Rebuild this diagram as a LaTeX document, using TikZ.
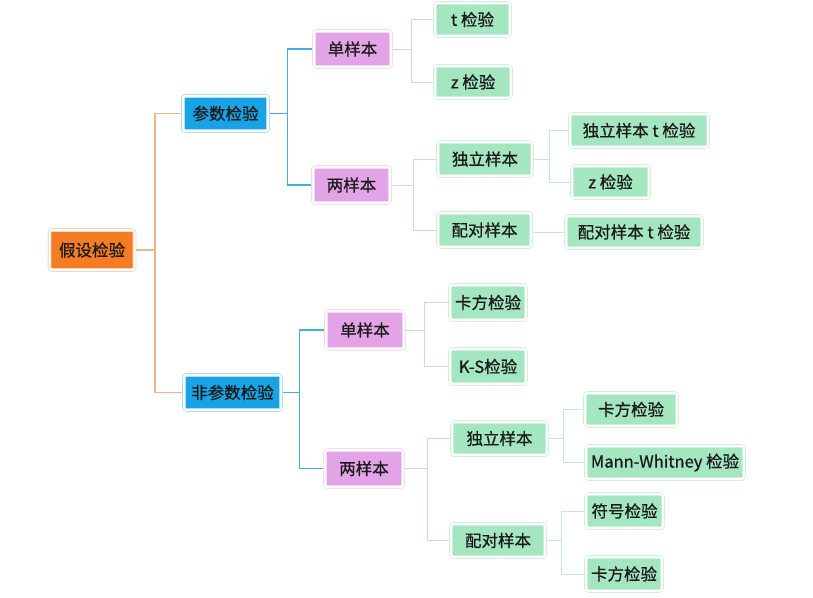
\documentclass[tikz,border=0pt]{standalone}
\usepackage{fontspec}
\setmainfont[FakeBold=0.7]{Noto Sans CJK SC}
\definecolor{rootfill}{HTML}{F57C22}
\definecolor{rootedge}{HTML}{F3D2BE}
\definecolor{rootlink}{HTML}{F0B48A}
\definecolor{parfill}{HTML}{17A3E5}
\definecolor{paredge}{HTML}{A9DAF0}
\definecolor{parlink}{HTML}{3DB2D6}
\definecolor{smpfill}{HTML}{E3A4E7}
\definecolor{smpedge}{HTML}{F2D6F2}
\definecolor{smplink}{HTML}{E7CAE7}
\definecolor{tstfill}{HTML}{A4E6BF}
\definecolor{tstedge}{HTML}{CDEED9}
\definecolor{tstlink}{HTML}{C6E8D2}
\definecolor{labeltext}{HTML}{1A1A1A}
\usetikzlibrary{backgrounds}

\begin{document}
\begin{tikzpicture}[
  x=1pt,
  y=-1pt,
  line join=round,
  box/.style={rectangle,rounded corners=2.5pt,line width=0.8pt,double=white,
    double distance=2pt,inner sep=0pt,font=\fontsize{16.5}{18}\selectfont,
    text=labeltext},
  rootbox/.style={box,draw=rootedge,fill=rootfill},
  parbox/.style={box,draw=paredge,fill=parfill},
  smpbox/.style={box,draw=smpedge,fill=smpfill},
  tstbox/.style={box,draw=tstedge,fill=tstfill},
  rootline/.style={draw=rootlink,line width=1.2pt},
  parline/.style={draw=parlink,line width=1.2pt},
  smpline/.style={draw=smplink,line width=1pt},
  tstline/.style={draw=tstlink,line width=1pt}
]
  \useasboundingbox (0,0) rectangle (813,597);

  % level 0 and 1
  \node[rootbox,minimum width=85,minimum height=40] (root) at (92,250) {假设检验};
  \node[parbox,minimum width=85,minimum height=35] (par) at (225.5,113.5) {参数检验};
  \node[parbox,minimum width=97,minimum height=35] (npar) at (232.5,392.5) {非参数检验};

  % level 2
  \node[smpbox,minimum width=77,minimum height=36] (S1) at (352.5,49) {单样本};
  \node[smpbox,minimum width=77,minimum height=36] (S2) at (351.5,185) {两样本};
  \node[smpbox,minimum width=78,minimum height=38] (S3) at (365,330) {单样本};
  \node[smpbox,minimum width=78,minimum height=37] (S4) at (364,468.5) {两样本};

  % level 3
  \node[tstbox,minimum width=75,minimum height=33] (T1) at (472.5,19.5) {t 检验};
  \node[tstbox,minimum width=76,minimum height=32] (T2) at (473,82) {z 检验};
  \node[tstbox,minimum width=94,minimum height=34] (T3) at (485,159) {独立样本};
  \node[tstbox,minimum width=93,minimum height=34] (T4) at (484.5,230) {配对样本};
  \node[tstbox,minimum width=76,minimum height=35] (T5) at (488,302.5) {卡方检验};
  \node[tstbox,minimum width=76,minimum height=35] (T6) at (488,366.5) {K-S检验};
  \node[tstbox,minimum width=95,minimum height=33] (T7) at (499.5,438.5) {独立样本};
  \node[tstbox,minimum width=94,minimum height=33] (T8) at (498,540.5) {配对样本};

  % level 4
  \node[tstbox,minimum width=138,minimum height=33] (U1) at (639,130.5) {独立样本 t 检验};
  \node[tstbox,minimum width=77,minimum height=32] (U2) at (610.5,182) {z 检验};
  \node[tstbox,minimum width=136,minimum height=32] (U3) at (634,232) {配对样本 t 检验};
  \node[tstbox,minimum width=92,minimum height=33] (U4) at (631,409.5) {卡方检验};
  \node[tstbox,minimum width=158,minimum height=33] (U5) at (665,462.5) {Mann-Whitney 检验};
  \node[tstbox,minimum width=77,minimum height=34] (U6) at (624.5,511) {符号检验};
  \node[tstbox,minimum width=76,minimum height=34] (U7) at (624,574) {卡方检验};

  % elbow connectors, behind the boxes
  \begin{scope}[on background layer]
    \draw[rootline] (root.east) -- ++(20,0) coordinate (K0) |- (par.west);
    \draw[rootline] (K0) |- (npar.west);

    \draw[parline] (par.east) -- ++(19,0) coordinate (K1) |- (S1.west);
    \draw[parline] (K1) |- (S2.west);
    \draw[parline] (npar.east) -- ++(18,0) coordinate (K2) |- (S3.west);
    \draw[parline] (K2) |- (S4.west);

    \draw[smpline] (S1.east) -- ++(20,0) coordinate (K3) |- (T1.west);
    \draw[smpline] (K3) |- (T2.west);
    \draw[smpline] (S2.east) -- ++(23,0) coordinate (K4) |- (T3.west);
    \draw[smpline] (K4) |- (T4.west);
    \draw[smpline] (S3.east) -- ++(20,0) coordinate (K5) |- (T5.west);
    \draw[smpline] (K5) |- (T6.west);
    \draw[smpline] (S4.east) -- ++(24,0) coordinate (K6) |- (T7.west);
    \draw[smpline] (K6) |- (T8.west);

    \draw[tstline] (T3.east) -- ++(17,0) coordinate (K7) |- (U1.west);
    \draw[tstline] (K7) |- (U2.west);
    \draw[tstline] (T4.east |- U3.west) -- (U3.west);
    \draw[tstline] (T7.east) -- ++(16,0) coordinate (K8) |- (U4.west);
    \draw[tstline] (K8) |- (U5.west);
    \draw[tstline] (T8.east) -- ++(16,0) coordinate (K9) |- (U6.west);
    \draw[tstline] (K9) |- (U7.west);
  \end{scope}
\end{tikzpicture}
\end{document}
